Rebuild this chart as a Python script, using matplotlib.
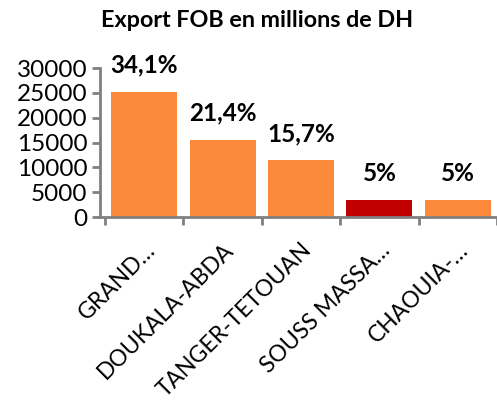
import matplotlib
matplotlib.use("Agg")
import matplotlib.pyplot as plt

regions = ["GRAND…", "DOUKALA-ABDA", "TANGER-TETOUAN", "SOUSS MASSA…", "CHAOUIA-…"]
values = [25250, 15600, 11450, 3400, 3400]
shares = ["34,1%", "21,4%", "15,7%", "5%", "5%"]
colors = ["#FD8A3A", "#FD8A3A", "#FD8A3A", "#C00000", "#FD8A3A"]
yticks = [0, 5000, 10000, 15000, 20000, 25000, 30000]

plt.rcParams['font.family'] = ['Lato', 'DejaVu Sans']

fig = plt.figure(figsize=(4.97, 4.03), dpi=100)
ax = fig.add_axes([0.201, 0.4615, 0.799, 0.3695])

x = list(range(len(regions)))
bars = ax.bar(x, values, width=0.84, color=colors)
for xi, v, s in zip(x, values, shares):
    ax.annotate(s, (xi, v), xytext=(0, 19), textcoords="offset points",
                ha="center", va="center", fontsize=17.5, fontweight="bold")

ax.set_ylim(0, 30000)
ax.set_xlim(-0.565, 4.5)
ax.set_yticks(yticks)
ax.set_yticklabels([str(t) for t in yticks], fontsize=17.5)
ax.set_xticks([i - 0.5 for i in range(len(regions) + 1)])
ax.set_xticklabels([])
ax.set_xticks(x, minor=True)
ax.set_xticklabels(regions, minor=True, rotation=45, ha="right",
                   rotation_mode="anchor", fontsize=16.5)
ax.tick_params(axis="x", which="minor", length=0, pad=16)
ax.tick_params(axis="x", which="major", length=6, width=2, color="#808080", direction="out")
ax.tick_params(axis="y", length=6, width=2, color="#808080", direction="out", pad=3)
for sp in ["top", "right"]:
    ax.spines[sp].set_visible(False)
for sp in ["left", "bottom"]:
    ax.spines[sp].set_color("#808080")
    ax.spines[sp].set_linewidth(2)

fig.text(0.518, 0.948, "Export FOB en millions de DH", ha="center", va="center",
         fontsize=16.8, fontweight="bold")

fig.savefig("out.png", dpi=100)
